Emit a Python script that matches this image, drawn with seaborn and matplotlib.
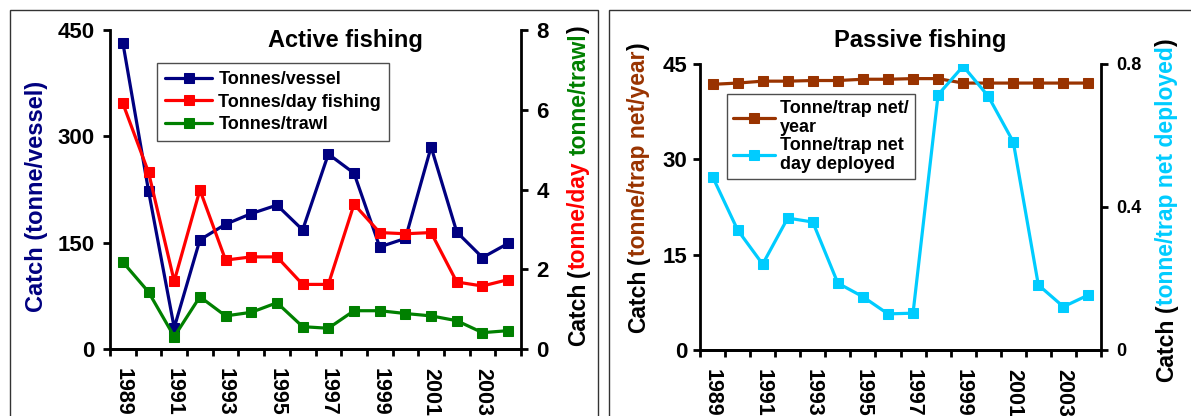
import matplotlib
matplotlib.use("Agg")
import matplotlib.pyplot as plt
from matplotlib.patches import Rectangle
from matplotlib.ticker import FixedLocator
import seaborn as sns

# ---- data -------------------------------------------------------------
years = list(range(1989, 2005))
year_labels = [str(y) for y in range(1989, 2004, 2)]

# Active fishing
tonnes_per_vessel = [432, 223, 30, 154, 176, 191, 203, 168, 275, 248, 144, 156, 285, 165, 129, 149]
tonnes_per_day = [6.16, 4.43, 1.70, 3.99, 2.23, 2.31, 2.31, 1.62, 1.62, 3.63, 2.92, 2.89, 2.92, 1.68, 1.58, 1.74]
tonnes_per_trawl = [2.18, 1.43, 0.31, 1.31, 0.83, 0.92, 1.16, 0.56, 0.52, 0.96, 0.96, 0.89, 0.83, 0.71, 0.41, 0.46]

# Passive fishing
trapnet_per_year = [41.8, 42.0, 42.3, 42.3, 42.4, 42.4, 42.6, 42.6, 42.7, 42.7, 42.0, 42.0, 42.0, 42.0, 42.0, 42.0]
trapnet_per_day = [0.485, 0.336, 0.240, 0.369, 0.358, 0.187, 0.149, 0.101, 0.103, 0.714, 0.794, 0.710, 0.582, 0.182, 0.121, 0.154]

NAVY, RED, GREEN = "#000080", "#FF0000", "#008000"
BROWN, CYAN = "#993300", "#00CCFF"

# ---- style ------------------------------------------------------------
sns.set_style("ticks")
plt.rcParams["font.family"] = ["Liberation Sans", "DejaVu Sans"]
plt.rcParams["font.weight"] = "bold"
plt.rcParams["text.color"] = "black"
plt.rcParams["axes.edgecolor"] = "black"
plt.rcParams["xtick.color"] = "black"
plt.rcParams["ytick.color"] = "black"

W, H = 1191, 416
fig = plt.figure(figsize=(W / 100, H / 100), dpi=100)
fig.patch.set_facecolor("white")

# panel frames
fig.add_artist(Rectangle((10 / W, -0.05), 588 / W, 1 - 10 / H + 0.05,
                         transform=fig.transFigure, fill=False, ec="#333333", lw=1.0))
fig.add_artist(Rectangle((609 / W, -0.05), 0.6, 1 - 10 / H + 0.05,
                         transform=fig.transFigure, fill=False, ec="#333333", lw=1.0))


def style_axes(ax, right=False, labelsize=16, pad=6):
    for side in ("top", "right", "left", "bottom"):
        ax.spines[side].set_visible(False)
    ax.spines["bottom"].set_visible(True)
    ax.spines["bottom"].set_linewidth(2.0)
    side = "right" if right else "left"
    ax.spines[side].set_visible(True)
    ax.spines[side].set_linewidth(2.0)
    ax.tick_params(axis="y", direction="out", length=5, width=2.0,
                   labelsize=labelsize, pad=pad,
                   left=not right, right=right, labelleft=not right, labelright=right)


def style_xaxis(ax):
    ax.set_xlim(1988.5, 2004.5)
    ax.xaxis.set_major_locator(FixedLocator(list(range(1989, 2004, 2))))
    ax.set_xticklabels(year_labels, rotation=-90, fontsize=15.5, fontweight="bold")
    ax.xaxis.set_minor_locator(FixedLocator([y - 0.5 for y in range(1989, 2006)]))
    ax.tick_params(axis="x", which="major", length=0, pad=14)
    ax.tick_params(axis="x", which="minor", length=5, width=2.0, direction="out")


def series(ax, y, color, label, ms=7.5, lw=2.3):
    sns.lineplot(x=years, y=y, ax=ax, color=color, marker="s", markersize=ms,
                 markeredgecolor=color, linewidth=lw, label=label, legend=False)


def stacked_label(x_px, yc_px_top, pieces, size):
    """Vertical label built from differently coloured pieces."""
    r = fig.canvas.get_renderer()
    em = size * 100 / 72
    widths = []
    for s, c in pieces:
        if s == " ":
            widths.append(0.278 * em)
        else:
            t = fig.text(0, 0, s, fontsize=size, fontweight="bold")
            widths.append(t.get_window_extent(r).width)
            t.remove()
    total = sum(widths)
    y = (H - yc_px_top) - total / 2
    xb = x_px + 0.36 * em
    for (s, c), w in zip(pieces, widths):
        if s != " ":
            fig.text(xb / W, y / H, s, rotation=90, rotation_mode="anchor",
                     ha="left", va="baseline", color=c, fontsize=size,
                     fontweight="bold")
        y += w


# ---- Active fishing ---------------------------------------------------
ax1 = fig.add_axes([110 / W, (H - 349) / H, 411 / W, 319 / H])
ax2 = ax1.twinx()
series(ax1, tonnes_per_vessel, NAVY, "Tonnes/vessel")
series(ax2, tonnes_per_day, RED, "Tonnes/day fishing")
series(ax2, tonnes_per_trawl, GREEN, "Tonnes/trawl")
ax1.set_ylim(0, 450)
ax1.set_yticks([0, 150, 300, 450])
ax2.set_ylim(0, 8)
ax2.set_yticks([0, 2, 4, 6, 8])
style_axes(ax1)
style_axes(ax2, right=True)
style_xaxis(ax1)
ax1.set_ylabel("")
ax2.set_ylabel("")
for lab in ax1.get_yticklabels() + ax2.get_yticklabels():
    lab.set_fontweight("bold")

h1, l1 = ax1.get_legend_handles_labels()
h2, l2 = ax2.get_legend_handles_labels()
leg = ax2.legend(h1 + h2, l1 + l2, loc="upper left",
                 bbox_to_anchor=(157 / W, 1 - 63 / H), bbox_transform=fig.transFigure,
                 frameon=True, fancybox=False, edgecolor="#222222", borderaxespad=0,
                 prop={"weight": "bold", "size": 13}, handlelength=2.6,
                 handletextpad=0.35, labelspacing=0.3, borderpad=0.45)
leg.get_frame().set_linewidth(1.0)

fig.text(345 / W, 1 - 40 / H, "Active fishing", ha="center", va="center",
         fontsize=17, fontweight="bold")

fig.text(37 / W, 1 - 196 / H, "Catch (tonne/vessel)", rotation=90, ha="center",
         va="center", color=NAVY, fontsize=17, fontweight="bold")
stacked_label(577, 186, [("Catch", "black"), (" ", None), ("(", "black"),
                         ("tonne/day", RED), (" ", None), ("tonne/trawl", GREEN),
                         (")", "black")], 16.5)

# ---- Passive fishing --------------------------------------------------
ax3 = fig.add_axes([700 / W, (H - 350) / H, 401 / W, 286 / H])
ax4 = ax3.twinx()
series(ax4, trapnet_per_day, CYAN, "Tonne/trap net\nday deployed", ms=7)
series(ax3, trapnet_per_year, BROWN, "Tonne/trap net/\nyear", ms=7)
ax3.set_ylim(0, 45)
ax3.set_yticks([0, 15, 30, 45])
ax4.set_ylim(0, 0.8)
ax4.set_yticks([0, 0.4, 0.8])
ax4.set_yticklabels(["0", "0.4", "0.8"])
style_axes(ax3, pad=4)
style_axes(ax4, right=True, labelsize=13, pad=6)
style_xaxis(ax3)
ax3.set_ylabel("")
ax4.set_ylabel("")
for lab in ax3.get_yticklabels() + ax4.get_yticklabels():
    lab.set_fontweight("bold")

h3, l3 = ax3.get_legend_handles_labels()
h4, l4 = ax4.get_legend_handles_labels()
leg2 = ax4.legend(h3 + h4, l3 + l4, loc="upper left",
                  bbox_to_anchor=(727 / W, 1 - 94 / H), bbox_transform=fig.transFigure,
                  frameon=True, fancybox=False, edgecolor="#222222", borderaxespad=0,
                  prop={"weight": "bold", "size": 13}, handlelength=2.3,
                  handletextpad=0.3, labelspacing=0.1, borderpad=0.35)
leg2.get_frame().set_linewidth(1.0)
for t in leg2.get_texts():
    t.set_linespacing(1.1)

fig.text(920 / W, 1 - 40 / H, "Passive fishing", ha="center", va="center",
         fontsize=17, fontweight="bold")

stacked_label(637, 188, [("Catch", "black"), (" ", None), ("(", "black"),
                         ("tonne/trap net/year", BROWN), (")", "black")], 16.5)
stacked_label(1165, 210, [("Catch", "black"), (" ", None), ("(", "black"),
                          ("tonne/trap net deployed", CYAN), (")", "black")], 16.5)

fig.savefig("out.png", dpi=100, facecolor="white")
